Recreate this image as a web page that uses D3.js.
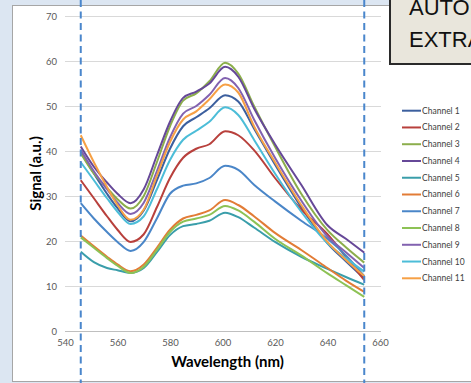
<!DOCTYPE html>
<html>
<head>
<meta charset="utf-8">
<script src="https://cdn.jsdelivr.net/npm/d3@7"></script>
<style>
  html, body { margin: 0; padding: 0; overflow: hidden; background: #dce6f2; }
  svg { display: block; }
</style>
</head>
<body>
<svg id="chart" width="471" height="383"></svg>
<script>
// wavelengths (nm) where the curves were sampled
const wavelengths = [546, 551, 556, 560, 565, 570, 575, 580, 585, 590, 595, 601, 606, 612, 620, 630, 640, 647, 654];

const channelNames = ["Channel 1", "Channel 2", "Channel 3", "Channel 4", "Channel 5", "Channel 6",
  "Channel 7", "Channel 8", "Channel 9", "Channel 10", "Channel 11"];

const channelColors = ["#3c5f9e", "#b8403c", "#8cae4c", "#664898", "#3a9eaa", "#e27c36",
  "#4a86c8", "#8dc255", "#8262b0", "#4cbdd8", "#f6a045"];

const ch1 = [39.8, 35.0, 30.5, 27.3, 24.4, 26.8, 33.5, 40.5, 45.5, 47.5, 49.5, 52.4, 51.0, 45.0, 37.0, 27.5, 19.5, 15.5, 11.7];
const ch2 = [33.5, 29.5, 25.5, 22.5, 19.8, 21.5, 27.5, 34.0, 38.5, 40.5, 41.5, 44.4, 43.5, 40.2, 34.0, 27.0, 21.5, 16.5, 11.3];
const ch3 = [39.5, 35.0, 31.8, 29.3, 27.2, 30.0, 37.5, 45.5, 51.2, 52.8, 55.5, 59.6, 57.2, 50.0, 41.0, 30.5, 22.4, 18.6, 15.2];
const ch4 = [41.0, 36.5, 33.0, 30.5, 28.4, 31.5, 39.0, 46.5, 51.8, 53.2, 55.0, 58.7, 56.5, 49.5, 41.5, 32.5, 23.5, 20.5, 17.4];
const ch5 = [17.6, 15.3, 14.0, 13.5, 12.9, 14.0, 17.5, 21.3, 23.3, 23.8, 24.5, 26.3, 25.3, 23.0, 19.8, 16.5, 13.8, 12.0, 10.3];
const ch6 = [21.2, 18.8, 16.5, 14.8, 13.3, 14.8, 18.5, 22.5, 25.0, 25.8, 26.8, 29.1, 28.0, 25.5, 21.8, 18.0, 14.0, 11.2, 8.7];
const ch7 = [28.4, 25.0, 22.0, 19.8, 17.8, 19.8, 25.0, 30.5, 32.3, 32.8, 34.0, 36.7, 35.8, 32.5, 28.8, 24.5, 20.5, 16.8, 12.2];
const ch8 = [20.8, 18.5, 16.2, 14.5, 12.9, 14.3, 18.0, 22.0, 24.3, 25.0, 25.8, 27.8, 26.8, 24.3, 20.5, 16.8, 12.8, 10.2, 7.6];
const ch9 = [40.3, 35.5, 31.5, 28.5, 26.0, 28.5, 35.5, 43.0, 48.3, 50.0, 52.5, 56.2, 54.0, 47.0, 38.5, 29.0, 21.0, 17.5, 14.0];
const ch10 = [37.5, 33.5, 29.5, 26.5, 23.8, 25.5, 31.5, 38.0, 42.5, 44.5, 46.5, 49.7, 48.0, 42.5, 35.0, 26.5, 19.5, 16.2, 13.2];
const ch11 = [43.5, 37.5, 32.0, 28.0, 24.7, 27.0, 34.5, 42.0, 47.0, 48.8, 51.5, 54.8, 53.0, 45.5, 37.5, 28.0, 19.8, 15.8, 12.2];

const xTicks = [540, 560, 580, 600, 620, 640, 660];
const yTicks = [0, 10, 20, 30, 40, 50, 60, 70];
// the two dashed markers sit on the ends of the measured range
const markers = [546, 654];

const series = [ch1, ch2, ch3, ch4, ch5, ch6, ch7, ch8, ch9, ch10, ch11].map((vals, i) => ({
  name: channelNames[i],
  color: channelColors[i],
  points: vals.map((v, j) => ({ wl: wavelengths[j], v: v }))
}));

const svg = d3.select("#chart");
const W = 471, H = 383;

// white chart area
svg.append("rect")
  .attr("x", 12.5).attr("y", 5.5)
  .attr("width", W).attr("height", 376)
  .attr("fill", "#ffffff")
  .attr("stroke", "#a6a6a6").attr("stroke-width", 1);

const x = d3.scaleLinear().domain([540, 660]).range([65, 380]);
const y = d3.scaleLinear().domain([0, 70]).range([331, 16]);

// gridlines
svg.append("g").selectAll("line")
  .data(yTicks)
  .enter().append("line")
  .attr("x1", x(540)).attr("x2", x(660) + 1)
  .attr("y1", d => Math.round(y(d)) + 0.5).attr("y2", d => Math.round(y(d)) + 0.5)
  .attr("stroke", d => d === 0 ? "#bfbfbf" : "#d9d9d9")
  .attr("stroke-width", 1);

// y axis labels
const yAxis = svg.append("g")
  .attr("transform", "translate(" + x(540) + ",0)")
  .call(d3.axisLeft(y).tickValues(yTicks).tickSize(0).tickPadding(8));
yAxis.select(".domain").remove();
yAxis.selectAll("text")
  .attr("font-family", "Lato, 'Liberation Sans', sans-serif")
  .attr("font-size", 9.5)
  .attr("fill", "#595959");

// x axis labels
const xAxis = svg.append("g")
  .attr("transform", "translate(0," + y(0) + ")")
  .call(d3.axisBottom(x).tickValues(xTicks).tickSize(0).tickPadding(8));
xAxis.select(".domain").remove();
xAxis.selectAll("text")
  .attr("font-family", "Lato, 'Liberation Sans', sans-serif")
  .attr("font-size", 9.5)
  .attr("fill", "#595959");

// axis titles
svg.append("text")
  .attr("x", (x(540) + x(660)) / 2 + 5)
  .attr("y", 367)
  .attr("text-anchor", "middle")
  .attr("font-family", "Lato, 'Liberation Sans', sans-serif")
  .attr("font-weight", "bold")
  .attr("font-size", 15)
  .attr("fill", "#000")
  .text("Wavelength (nm)");

svg.append("text")
  .attr("transform", "translate(41," + (y(35)) + ") rotate(-90)")
  .attr("text-anchor", "middle")
  .attr("font-family", "Lato, 'Liberation Sans', sans-serif")
  .attr("font-weight", "bold")
  .attr("font-size", 15)
  .attr("fill", "#000")
  .text("Signal (a.u.)");

// channel curves
const line = d3.line()
  .x(d => x(d.wl))
  .y(d => y(d.v))
  .curve(d3.curveMonotoneX);

svg.append("g").selectAll("path")
  .data(series)
  .enter().append("path")
  .attr("d", d => line(d.points))
  .attr("fill", "none")
  .attr("stroke", d => d.color)
  .attr("stroke-width", 2)
  .attr("stroke-linejoin", "round");

// dashed markers
svg.append("g").selectAll("line")
  .data(markers)
  .enter().append("line")
  .attr("x1", d => x(d)).attr("x2", d => x(d))
  .attr("y1", 0).attr("y2", H)
  .attr("stroke", "#4a86cc")
  .attr("stroke-width", 2)
  .attr("stroke-dasharray", "7,4.5");

// legend
const legend = svg.append("g").attr("transform", "translate(402,110.7)");
const item = legend.selectAll("g")
  .data(series)
  .enter().append("g")
  .attr("transform", (d, i) => "translate(0," + (i * 16.76) + ")");
item.append("line")
  .attr("x1", 0).attr("x2", 19)
  .attr("stroke", d => d.color)
  .attr("stroke-width", 2);
item.append("text")
  .attr("x", 20)
  .attr("dy", "0.35em")
  .attr("font-family", "Lato, 'Liberation Sans', sans-serif")
  .attr("font-size", 8.5)
  .attr("fill", "#404040")
  .text(d => d.name);

// callout box in the corner, running off the right edge like the original
const box = svg.append("g");
box.append("rect")
  .attr("x", 390).attr("y", -10)
  .attr("width", 120).attr("height", 74)
  .attr("fill", "#e9e6dc")
  .attr("stroke", "#2a2a2a")
  .attr("stroke-width", 2);
box.append("text")
  .attr("x", 409).attr("y", 15)
  .attr("font-family", "'Liberation Sans', Arial, sans-serif")
  .attr("font-size", 22)
  .attr("fill", "#111")
  .text("AUTOMATIC");
box.append("text")
  .attr("x", 409).attr("y", 47)
  .attr("font-family", "'Liberation Sans', Arial, sans-serif")
  .attr("font-size", 22)
  .attr("fill", "#111")
  .text("EXTRACTION");
</script>
</body>
</html>
